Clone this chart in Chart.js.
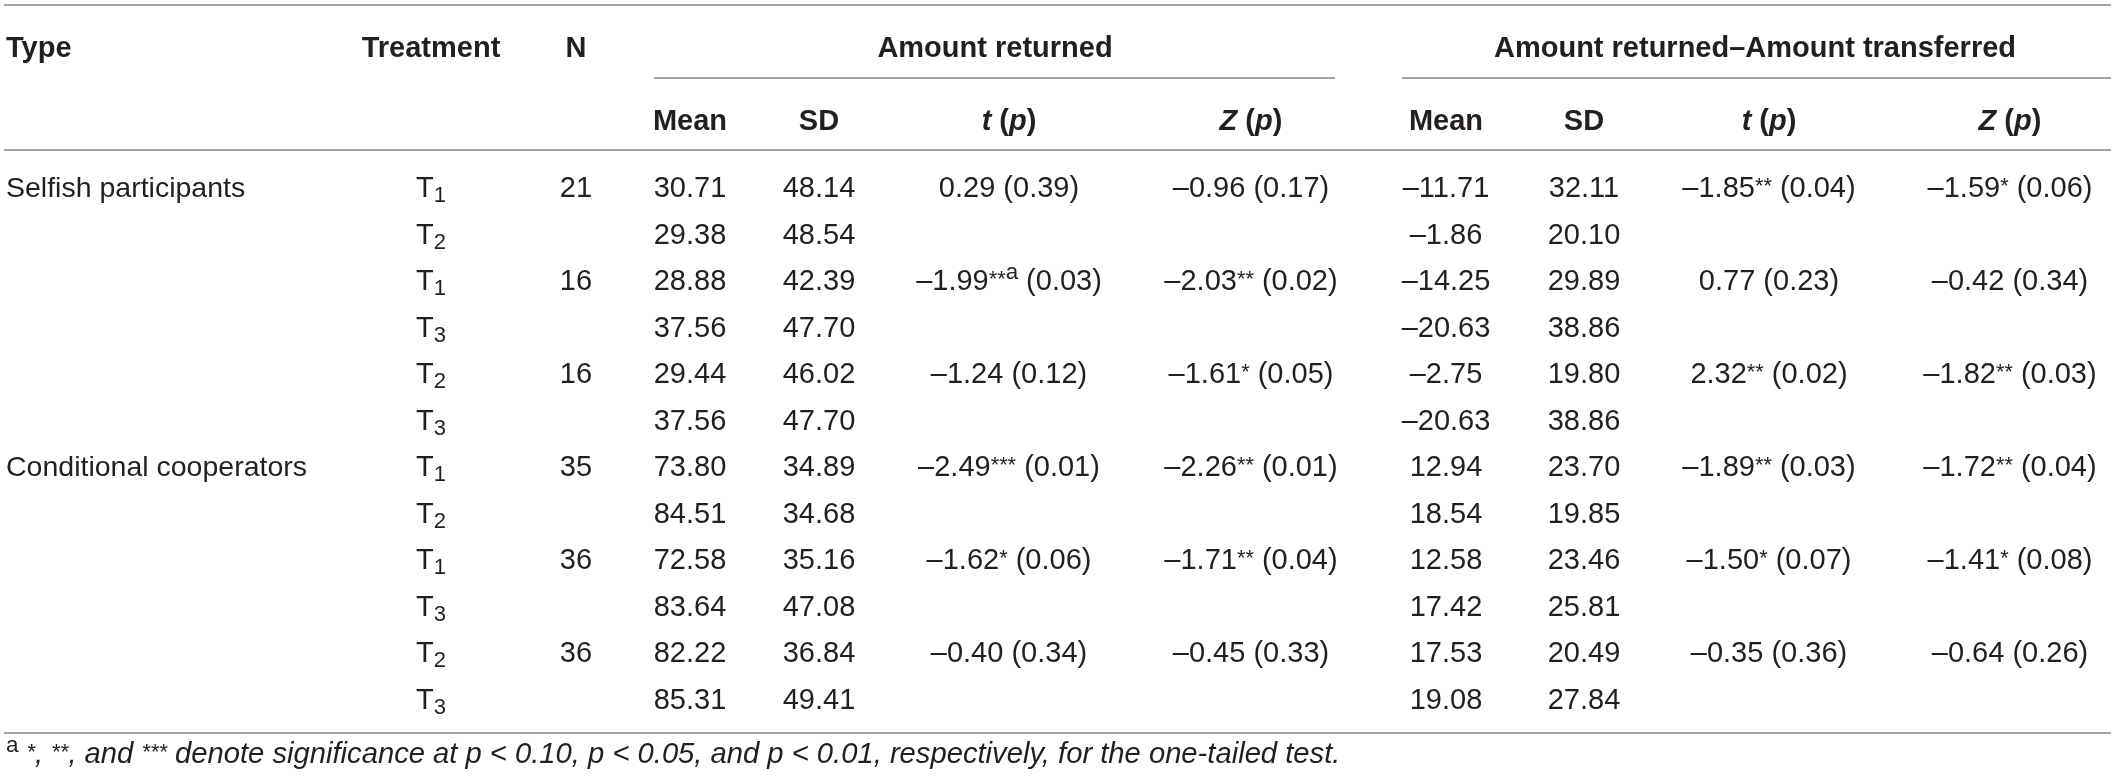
<!DOCTYPE html>
<html>
<head>
<meta charset="utf-8">
<script src="https://cdn.jsdelivr.net/npm/chart.js@4.4.1/dist/chart.umd.min.js"></script>
<style>
  html, body { margin: 0; padding: 0; background: #fff; }
  #wrap { width: 2117px; height: 783px; }
</style>
</head>
<body>
<div id="wrap"><canvas id="tbl" width="2117" height="783"></canvas></div>
<script>
// Table contents
const TYPES = ['Selfish participants', 'Conditional cooperators'];
const PAIRS = [['1', '2'], ['1', '3'], ['2', '3'], ['1', '2'], ['1', '3'], ['2', '3']];
const N_VALUES = [21, 16, 16, 35, 36, 36];

// Amount returned
const RET_MEAN = [30.71, 29.38, 28.88, 37.56, 29.44, 37.56, 73.80, 84.51, 72.58, 83.64, 82.22, 85.31];
const RET_SD = [48.14, 48.54, 42.39, 47.70, 46.02, 47.70, 34.89, 34.68, 35.16, 47.08, 36.84, 49.41];
const RET_T = [0.29, -1.99, -1.24, -2.49, -1.62, -0.40];
const RET_T_P = [0.39, 0.03, 0.12, 0.01, 0.06, 0.34];
const RET_T_SIG = ['', '**', '', '***', '*', ''];
const RET_T_NOTE = ['', 'a', '', '', '', ''];
const RET_Z = [-0.96, -2.03, -1.61, -2.26, -1.71, -0.45];
const RET_Z_P = [0.17, 0.02, 0.05, 0.01, 0.04, 0.33];
const RET_Z_SIG = ['', '**', '*', '**', '**', ''];

// Amount returned – Amount transferred
const DIFF_MEAN = [-11.71, -1.86, -14.25, -20.63, -2.75, -20.63, 12.94, 18.54, 12.58, 17.42, 17.53, 19.08];
const DIFF_SD = [32.11, 20.10, 29.89, 38.86, 19.80, 38.86, 23.70, 19.85, 23.46, 25.81, 20.49, 27.84];
const DIFF_T = [-1.85, 0.77, 2.32, -1.89, -1.50, -0.35];
const DIFF_T_P = [0.04, 0.23, 0.02, 0.03, 0.07, 0.36];
const DIFF_T_SIG = ['**', '', '**', '**', '*', ''];
const DIFF_Z = [-1.59, -0.42, -1.82, -1.72, -1.41, -0.64];
const DIFF_Z_P = [0.06, 0.34, 0.03, 0.04, 0.08, 0.26];
const DIFF_Z_SIG = ['*', '', '**', '**', '*', ''];

// Header texts
const HEAD_TOP = ['Type', 'Treatment', 'N'];
const GROUPS = ['Amount returned', 'Amount returned\u2013Amount transferred'];
const SUB_HEADS = ['Mean', 'SD', '~{t} (~{p})', '~{Z} (~{p})'];
const FOOTNOTE = '!{a} ^{*}, ^{**}, and ^{***} denote significance at p < 0.10, p < 0.05, and p < 0.01, respectively, for the one-tailed test.';

// Layout (canvas px on x, row units on y)
const COL_X = { type: 6, treat: 431, n: 576, m1: 690, sd1: 819, t1: 1009, z1: 1251, m2: 1446, sd2: 1584, t2: 1769, z2: 2010 };
const GROUP_X = [995, 1755];
const GROUP_RULES = [[654, 1335], [1402, 2111]];
const Y_HEAD1 = -3.01, Y_HEAD2 = -1.44, Y_FOOT = 12.17;
const Y_TOP_RULE = -3.914, Y_GROUP_RULE = -2.344, Y_HEAD_RULE = -0.796, Y_BOTTOM_RULE = 11.742;
const FONT_FAMILY = '"Liberation Sans", Arial, Helvetica, sans-serif';
const TEXT_COLOR = '#231f20';
const RULE_COLOR = '#a3a3a3';

function fmt(v) {
    return (v < 0 ? '\u2013' : '') + Math.abs(v).toFixed(2);
}

function testCell(stat, p, sig, note) {
    return fmt(stat) + (sig ? '^{' + sig + '}' : '') + (note ? '!{' + note + '}' : '') + ' (' + p.toFixed(2) + ')';
}

// Build one dataset per column; each point carries its cell text
function column(x, cells, style) {
    return {
        data: cells.map((c) => ({ x: x, y: c.y, text: c.text })).filter((c) => c.text !== ''),
        pointRadius: 0,
        cellStyle: style
    };
}

const rows = RET_MEAN.map((_, i) => i);
const plain = { size: 29, bold: false, italic: false, align: 'center' };
const bold = { size: 29, bold: true, italic: false, align: 'center' };
const half = (arr, i) => (i % 2 === 0 ? arr[i / 2] : null);

const datasets = [
    column(COL_X.type, rows.map((i) => ({ y: i, text: i % 6 === 0 ? TYPES[i / 6] : '' })), { ...plain, size: 28.5, align: 'left' }),
    column(COL_X.treat, rows.map((i) => ({ y: i, text: 'T_{' + PAIRS[Math.floor(i / 2)][i % 2] + '}' })), plain),
    column(COL_X.n, rows.map((i) => ({ y: i, text: i % 2 === 0 ? String(N_VALUES[i / 2]) : '' })), plain),
    column(COL_X.m1, rows.map((i) => ({ y: i, text: fmt(RET_MEAN[i]) })), plain),
    column(COL_X.sd1, rows.map((i) => ({ y: i, text: fmt(RET_SD[i]) })), plain),
    column(COL_X.t1, rows.map((i) => ({ y: i, text: i % 2 ? '' : testCell(half(RET_T, i), half(RET_T_P, i), half(RET_T_SIG, i), half(RET_T_NOTE, i)) })), plain),
    column(COL_X.z1, rows.map((i) => ({ y: i, text: i % 2 ? '' : testCell(half(RET_Z, i), half(RET_Z_P, i), half(RET_Z_SIG, i)) })), plain),
    column(COL_X.m2, rows.map((i) => ({ y: i, text: fmt(DIFF_MEAN[i]) })), plain),
    column(COL_X.sd2, rows.map((i) => ({ y: i, text: fmt(DIFF_SD[i]) })), plain),
    column(COL_X.t2, rows.map((i) => ({ y: i, text: i % 2 ? '' : testCell(half(DIFF_T, i), half(DIFF_T_P, i), half(DIFF_T_SIG, i)) })), plain),
    column(COL_X.z2, rows.map((i) => ({ y: i, text: i % 2 ? '' : testCell(half(DIFF_Z, i), half(DIFF_Z_P, i), half(DIFF_Z_SIG, i)) })), plain),
    // headers
    column(COL_X.type, [{ y: Y_HEAD1, text: HEAD_TOP[0] }], { ...bold, align: 'left' }),
    column(COL_X.treat, [{ y: Y_HEAD1, text: HEAD_TOP[1] }], bold),
    column(COL_X.n, [{ y: Y_HEAD1, text: HEAD_TOP[2] }], bold),
    column(GROUP_X[0], [{ y: Y_HEAD1, text: GROUPS[0] }], bold),
    column(GROUP_X[1], [{ y: Y_HEAD1, text: GROUPS[1] }], bold),
    ...[COL_X.m1, COL_X.sd1, COL_X.t1, COL_X.z1, COL_X.m2, COL_X.sd2, COL_X.t2, COL_X.z2].map((x, k) =>
        column(x, [{ y: Y_HEAD2, text: SUB_HEADS[k % 4] }], bold)),
    // footnote
    column(COL_X.type, [{ y: Y_FOOT, text: FOOTNOTE }], { size: 29.2, bold: false, italic: true, align: 'left' })
];

// markup: ^{..} asterisk superscript, !{..} upright letter superscript, _{..} subscript, ~{..} italic
function parseRuns(str) {
    const runs = [];
    const re = /([\^_~!])\{([^}]*)\}/g;
    let last = 0, m;
    while ((m = re.exec(str))) {
        if (m.index > last) runs.push({ t: str.slice(last, m.index), k: '' });
        runs.push({ t: m[2], k: m[1] });
        last = re.lastIndex;
    }
    if (last < str.length) runs.push({ t: str.slice(last), k: '' });
    return runs;
}

function runFont(run, st) {
    let size = st.size, italic = st.italic, dy = 0;
    if (run.k === '^') { size = st.size * 0.75; dy = -st.size * 0.16; }
    if (run.k === '!') { size = st.size * 0.77; dy = -st.size * 0.4; italic = false; }
    if (run.k === '_') { size = st.size * 0.76; dy = st.size * 0.17; }
    if (run.k === '~') italic = true;
    return { font: (italic ? 'italic ' : '') + (st.bold ? 'bold ' : '') + size + 'px ' + FONT_FAMILY, dy: dy };
}

function drawCell(ctx, text, x, y, st) {
    const runs = parseRuns(text).map((r) => {
        const f = runFont(r, st);
        ctx.font = f.font;
        return { ...r, ...f, w: ctx.measureText(r.t).width };
    });
    const total = runs.reduce((s, r) => s + r.w, 0);
    let cx = st.align === 'left' ? x : x - total / 2;
    const base = y + st.size * 0.36;
    runs.forEach((r) => {
        ctx.font = r.font;
        ctx.fillText(r.t, cx, base + r.dy);
        cx += r.w;
    });
}

const tablePlugin = {
    id: 'tablePlugin',
    afterDatasetsDraw(chart) {
        const ctx = chart.ctx;
        const xs = chart.scales.x, ys = chart.scales.y;
        ctx.save();
        // rules
        ctx.strokeStyle = RULE_COLOR;
        ctx.lineWidth = 2;
        const rules = [
            [4, 2111, Y_TOP_RULE],
            [GROUP_RULES[0][0], GROUP_RULES[0][1], Y_GROUP_RULE],
            [GROUP_RULES[1][0], GROUP_RULES[1][1], Y_GROUP_RULE],
            [4, 2111, Y_HEAD_RULE],
            [4, 2111, Y_BOTTOM_RULE]
        ];
        rules.forEach(([x0, x1, y]) => {
            const py = Math.round(ys.getPixelForValue(y));
            ctx.beginPath();
            ctx.moveTo(xs.getPixelForValue(x0), py);
            ctx.lineTo(xs.getPixelForValue(x1), py);
            ctx.stroke();
        });
        // cells
        ctx.fillStyle = TEXT_COLOR;
        ctx.textBaseline = 'alphabetic';
        ctx.textAlign = 'left';
        chart.data.datasets.forEach((ds, di) => {
            const meta = chart.getDatasetMeta(di);
            meta.data.forEach((el, i) => {
                drawCell(ctx, ds.data[i].text, el.x, el.y, ds.cellStyle);
            });
        });
        ctx.restore();
    }
};

new Chart(document.getElementById('tbl').getContext('2d'), {
    type: 'scatter',
    data: { datasets: datasets },
    options: {
        responsive: false,
        animation: false,
        devicePixelRatio: 1,
        events: [],
        layout: { padding: 0 },
        plugins: { legend: { display: false }, tooltip: { enabled: false } },
        scales: {
            x: { type: 'linear', display: false, min: 0, max: 2117 },
            y: { type: 'linear', display: false, min: -4.0215, max: 12.817, reverse: true }
        }
    },
    plugins: [tablePlugin]
});
</script>
</body>
</html>
